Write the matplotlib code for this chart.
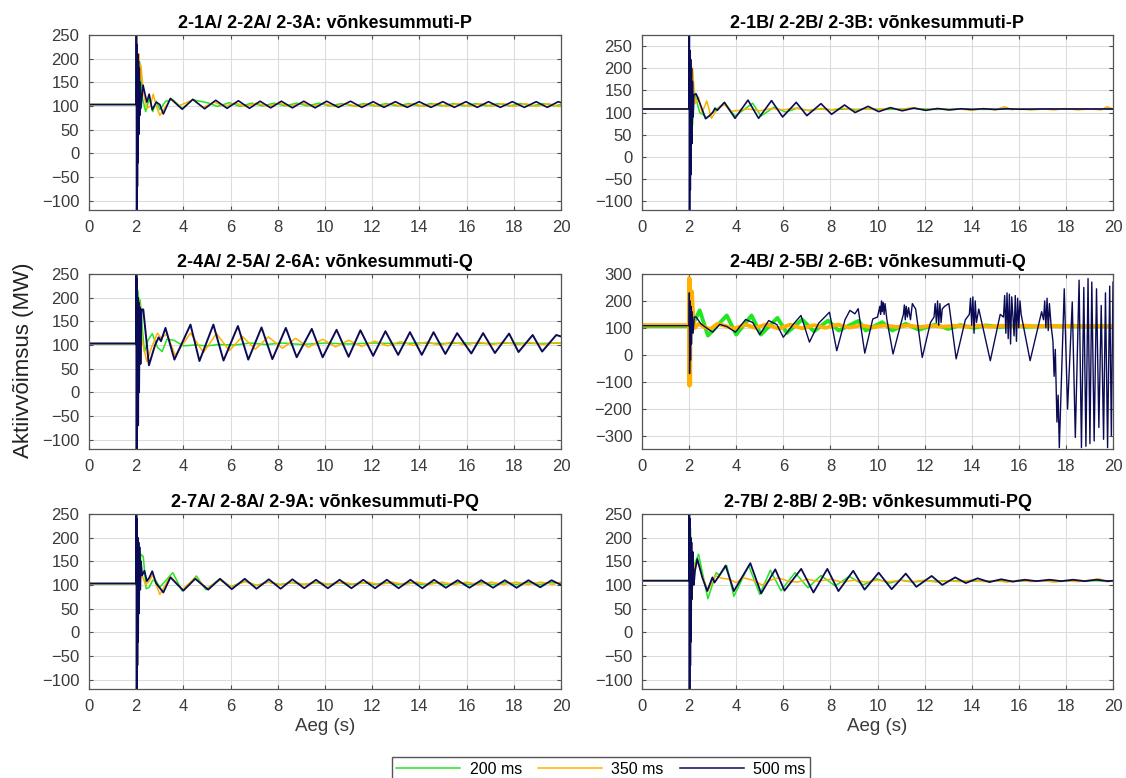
import matplotlib
matplotlib.use("Agg")
import matplotlib.pyplot as plt
from matplotlib.lines import Line2D

plt.rcParams["font.family"] = ["Liberation Sans", "DejaVu Sans"]

# ---------------------------------------------------------------------------
# Simulated active power (MW) after a fault at t = 2 s, three fault durations
# ---------------------------------------------------------------------------
durations = ["200 ms", "350 ms", "500 ms"]
colors = ["#22e622", "#ffb000", "#0b0b55"]

titles = [
    "2-1A/ 2-2A/ 2-3A: võnkesummuti-P",
    "2-1B/ 2-2B/ 2-3B: võnkesummuti-P",
    "2-4A/ 2-5A/ 2-6A: võnkesummuti-Q",
    "2-4B/ 2-5B/ 2-6B: võnkesummuti-Q",
    "2-7A/ 2-8A/ 2-9A: võnkesummuti-PQ",
    "2-7B/ 2-8B/ 2-9B: võnkesummuti-PQ",
]
x_ticks = [0, 2, 4, 6, 8, 10, 12, 14, 16, 18, 20]
y_ticks_250 = [-100, -50, 0, 50, 100, 150, 200, 250]
y_ticks_300 = [-300, -200, -100, 0, 100, 200, 300]

# --- P damper, variant A -----------------------------------------------------
t_pa_200 = [0, 2.0, 2.02, 2.05, 2.1, 2.15, 2.25, 2.4, 2.55, 2.7, 2.85, 3.0, 3.25, 3.55, 3.95,
            4.4, 5.0, 5.45, 5.95, 6.4, 6.9, 7.35, 7.85, 8.3, 8.8, 9.25, 9.75, 10.2, 10.7, 11.2,
            11.65, 12.1, 12.6, 13.05, 13.55, 14.0, 14.5, 14.95, 15.45, 15.9, 16.4, 16.85, 17.35,
            17.8, 18.3, 18.75, 19.25, 19.7, 20.0]
v_pa_200 = [103, 103, 150, 190, 140, 193, 120, 88, 115, 88, 110, 92, 110, 113, 95,
            113, 107, 99, 107, 99, 106, 100, 106, 100, 106, 100, 106, 100, 105, 100,
            105, 100, 105, 100, 105, 100, 105, 100, 105, 100, 105, 100, 105,
            100, 105, 100, 105, 100, 103]
t_pa_350 = [0, 2.0, 2.01, 2.03, 2.05, 2.08, 2.11, 2.15, 2.2, 2.3, 2.45, 2.6, 2.72, 2.85, 3.0,
            3.2, 3.45, 3.8, 4.4, 4.85, 5.3, 5.75, 6.2, 6.65, 7.1, 7.6, 8.05, 8.5, 9.0, 9.45, 9.95,
            10.4, 10.9, 11.35, 11.85, 12.3, 12.8, 13.25, 13.75, 14.2, 14.7, 15.15, 15.65, 16.1,
            16.6, 17.05, 17.55, 18.0, 18.5, 18.95, 19.45, 19.9, 20.0]
v_pa_350 = [103, 103, 260, -85, 200, 60, 210, 150, 186, 130, 95, 100, 125, 100, 80,
            95, 115, 100, 113, 97, 108, 99, 106, 99, 106, 99, 106, 99, 106, 99, 105,
            99, 105, 99, 105, 99, 105, 99, 105, 99, 105, 99, 105, 99,
            105, 99, 105, 99, 105, 99, 105, 99, 100]
t_pa_500 = [0, 2.0, 2.008, 2.02, 2.035, 2.05, 2.065, 2.08, 2.095, 2.11, 2.13, 2.15, 2.17, 2.2,
            2.29, 2.45, 2.55, 2.68, 2.85, 3.0, 3.15, 3.45, 3.95, 4.4, 4.9, 5.37, 5.85, 6.33, 6.8,
            7.25, 7.7, 8.15, 8.62, 9.1, 9.58, 10.07, 10.57, 11.08, 11.56, 12.04, 12.5, 12.98,
            13.48, 13.99, 14.49, 14.99, 15.48, 15.97, 16.45, 16.93, 17.43, 17.94, 18.45, 18.95,
            19.42, 19.88, 20.0]
v_pa_500 = [103, 103, 260, -120, 230, -70, 210, -20, 195, 40, 180, 80, 150, 95,
            144, 108, 125, 92, 108, 103, 83, 116, 93, 114, 94, 112, 95, 111, 95,
            110, 96, 110, 96, 110, 96, 110, 97, 110, 97, 109, 97, 109,
            97, 109, 97, 109, 97, 109, 97, 109, 97, 109, 97, 109,
            97, 109, 107]

# --- P damper, variant B -----------------------------------------------------
t_pb_200 = [0, 2.0, 2.02, 2.06, 2.1, 2.15, 2.22, 2.3, 2.45, 2.6, 2.75, 3.0, 3.5, 3.95, 4.7,
            5.05, 5.6, 6.1, 6.6, 7.1, 7.6, 8.1, 8.6, 9.1, 9.6, 10.5, 11.5, 12.5, 13.5, 14.5,
            15.5, 16.5, 17.5, 18.5, 19.5, 20.0]
v_pb_200 = [108, 108, 140, 190, 100, 72, 148, 130, 100, 95, 88, 100, 122, 92, 121,
            92, 112, 101, 110, 104, 109, 106, 108, 107, 108, 107, 109, 107, 108, 107,
            108, 107, 108, 108, 108, 108]
t_pb_350 = [0, 2.0, 2.01, 2.03, 2.05, 2.1, 2.15, 2.25, 2.4, 2.55, 2.75, 2.95, 3.1, 3.3, 3.5,
            3.75, 4.0, 4.5, 5.0, 5.5, 6.0, 6.5, 7.0, 7.5, 8.0, 8.5, 9.0, 9.5, 10.0, 10.5, 11.0,
            11.5, 12.0, 12.5, 13.0, 13.5, 14.0, 14.5, 15.0, 15.4, 15.7, 16.0, 16.5, 17.0, 17.5,
            18.0, 18.5, 19.0, 19.5, 19.75, 20.0]
v_pb_350 = [108, 108, 230, 60, 220, 180, 200, 120, 135, 100, 126, 87, 100, 112, 118,
            103, 104, 108, 104, 109, 106, 110, 105, 108, 106, 110, 105, 108, 106, 110, 107,
            111, 106, 109, 106, 108, 105, 109, 106, 113, 106, 109, 106, 108, 106,
            109, 106, 108, 106, 113, 108]
t_pb_500 = [0, 2.0, 2.008, 2.02, 2.035, 2.05, 2.065, 2.08, 2.1, 2.12, 2.14, 2.17, 2.2, 2.3,
            2.5, 2.7, 2.85, 3.0, 3.1, 3.2, 3.5, 3.95, 4.5, 4.95, 5.5, 5.97, 6.55, 7.0, 7.6, 8.05,
            8.6, 9.05, 9.6, 10.05, 10.55, 11.05, 11.55, 12.05, 12.55, 13.05, 13.55, 14.0, 14.5,
            15.0, 15.5, 16.0, 17.0, 18.0, 19.0, 20.0]
v_pb_500 = [108, 108, 280, -120, 240, -75, 220, -40, 200, 30, 170, 90, 140, 142,
            115, 86, 92, 100, 110, 105, 123, 87, 128, 87, 127, 90, 123, 93, 120, 96,
            117, 100, 114, 102, 111, 104, 110, 105, 109, 106, 108.5, 107, 108.5,
            107, 108.5, 107.5, 108, 108, 108, 108]

# --- Q damper, variant A -----------------------------------------------------
t_qa_200 = [0, 2.0, 2.03, 2.07, 2.12, 2.17, 2.25, 2.35, 2.5, 2.68, 2.9, 3.1, 3.3, 3.6, 4.0,
            4.5, 5.0, 5.5, 6.2, 6.8, 7.5, 8.2, 9.0, 10.0, 11.0, 12.0, 13.0, 14.0, 15.0, 16.0,
            17.0, 18.0, 19.0, 20.0]
v_qa_200 = [103, 103, 170, 215, 190, 195, 140, 85, 110, 124, 95, 86, 112, 110, 98,
            100, 98, 101, 100, 104, 101, 104, 101, 104, 102, 104, 103, 104, 103, 104,
            103, 104, 103, 104]
t_qa_350 = [0, 2.0, 2.01, 2.03, 2.06, 2.1, 2.15, 2.25, 2.45, 2.65, 2.9, 3.05, 3.3, 3.65, 4.3,
            4.85, 5.4, 5.95, 6.5, 7.05, 7.6, 8.2, 8.75, 9.3, 9.9, 10.45, 11.0, 11.55, 12.1,
            12.65, 13.2, 13.75, 14.3, 14.85, 15.4, 15.95, 16.5, 17.05, 17.6, 18.15, 18.7, 19.25,
            19.8, 20.0]
v_qa_350 = [103, 103, 200, 120, 200, 150, 190, 110, 65, 95, 125, 115, 123, 78, 125,
            84, 124, 88, 118, 91, 117, 93, 114, 95, 112, 96, 110, 97, 108,
            98, 107, 99, 106, 100, 106, 100, 106, 101, 105, 101, 105, 101,
            105, 104]
t_qa_500 = [0, 2.0, 2.008, 2.02, 2.035, 2.05, 2.065, 2.08, 2.1, 2.12, 2.15, 2.18, 2.22, 2.3,
            2.54, 2.8, 2.95, 3.05, 3.24, 3.62, 4.3, 4.68, 5.27, 5.7, 6.31, 6.75, 7.31, 7.77,
            8.34, 8.8, 9.44, 9.9, 10.49, 11.0, 11.5, 12.04, 12.56, 13.1, 13.6, 14.1, 14.6, 15.1,
            15.6, 16.2, 16.7, 17.2, 17.8, 18.2, 18.8, 19.2, 19.8, 20.0]
v_qa_500 = [103, 103, 260, -120, 240, -70, 200, -70, 190, 0, 180, 60, 175, 175,
            57, 100, 116, 108, 136, 69, 143, 66, 143, 67, 140, 69, 137, 70,
            136, 74, 134, 74, 132, 75, 131, 77, 129, 79, 127, 79, 127, 81,
            125, 82, 125, 83, 124, 85, 121, 86, 121, 118]

# --- Q damper, variant B -----------------------------------------------------
t_qb_200 = [0, 2.0, 2.02, 2.05, 2.1, 2.2, 2.45, 2.8, 3.6, 4.0, 4.65, 5.05, 5.75, 6.15, 6.8,
            7.3, 7.9, 8.35, 9.2, 9.5, 10.2, 10.63, 11.2, 11.76, 12.46, 13.0, 13.5, 14.1, 14.6,
            15.2, 15.8, 16.3, 17.0, 18.0, 19.0, 20.0]
v_qb_200 = [106, 106, 60, 150, 90, 120, 165, 71, 146, 75, 146, 75, 137, 81, 131,
            87, 127, 90, 126, 90, 121, 90, 115, 93, 112, 96, 110, 100, 109,
            103, 108, 104, 106, 106, 105, 106]
t_qb_350 = [0, 2.0, 2.005, 2.015, 2.03, 2.045, 2.06, 2.09, 2.12, 2.18, 2.25, 2.4, 2.6, 2.9,
            3.2, 3.5, 3.9, 4.4, 4.8, 5.3, 5.8, 6.3, 6.8, 7.3, 7.8, 8.3, 8.8, 9.3, 9.8, 10.3,
            10.8, 11.3, 11.8, 12.3, 12.8, 13.3, 13.8, 14.3, 14.8, 15.3, 15.8, 16.3, 16.8, 17.3,
            17.8, 18.3, 18.8, 19.3, 19.8, 20.0]
v_qb_350 = [110, 110, 285, -115, 280, -110, 230, 120, 235, 130, 100, 115, 105, 95,
            115, 108, 97, 112, 100, 113, 97, 112, 98, 110, 100, 112, 101, 109, 102, 109,
            103, 109, 103, 108, 104, 108, 104, 108, 104, 108, 105, 108, 105, 108,
            105, 108, 105, 108, 105, 106]
t_qb_500 = [0, 2.0, 2.01, 2.02, 2.04, 2.06, 2.08, 2.1, 2.13, 2.17, 2.22, 2.3, 2.5, 2.7, 3.0,
            3.3, 3.6, 3.97, 4.4, 4.7, 5.0, 5.38, 5.73, 6.0, 6.44, 6.75, 7.11, 7.5, 7.96, 8.27,
            8.62, 8.83, 9.04, 9.18, 9.46, 9.8, 10.0, 10.1, 10.13, 10.17, 10.2, 10.24, 10.28,
            10.32, 10.4, 10.66, 10.99, 11.1, 11.14, 11.18, 11.22, 11.27, 11.32, 11.4, 11.48,
            11.62, 11.9, 12.25, 12.4, 12.45, 12.5, 12.55, 12.6, 12.65, 12.7, 12.75, 12.85,
            13.03, 13.34, 13.73, 13.9, 13.95, 14.0, 14.05, 14.1, 14.15, 14.2, 14.3, 14.79,
            15.21, 15.35, 15.4, 15.45, 15.5, 15.55, 15.6, 15.65, 15.7, 15.8, 15.85, 15.9,
            15.95, 16.0, 16.05, 16.1, 16.48, 16.97, 17.05, 17.1, 17.15, 17.2, 17.25, 17.3,
            17.37, 17.45, 17.5, 17.55, 17.62, 17.67, 17.72, 17.93, 18.07, 18.27, 18.4, 18.56,
            18.66, 18.76, 18.85, 18.94, 19.02, 19.1, 19.2, 19.3, 19.4, 19.5, 19.6, 19.68,
            19.77, 19.86, 19.93, 20.0]
v_qb_500 = [108, 108, 230, -70, 200, -20, 180, 40, 160, 80, 140, 140, 115, 102, 84,
            113, 105, 84, 131, 120, 75, 127, 112, 65, 115, 146, 47, 117, 158, 15,
            130, 165, 152, 171, 6, 133, 140, 180, 150, 200, 160, 195, 150,
            190, 130, 3, 115, 150, 185, 130, 180, 140, 175, 130, 190,
            170, -10, 120, 140, 190, 120, 200, 110, 190, 120, 170, 180,
            190, -15, 130, 150, 210, 110, 215, 80, 200, 120, 170, -22,
            150, 140, 220, 80, 230, 60, 225, 40, 215, 70, 220, 50,
            210, 100, 200, 150, -22, 160, 130, 200, 100, 210, 90, 190,
            110, 50, -80, 20, -250, -150, -345, 245, -202, 196, -307, 277,
            -345, 250, -340, 283, -330, 270, -320, 245, -270, 183, -314, 230,
            -345, 255, -300, 270]

# --- PQ damper, variant A ----------------------------------------------------
t_pqa_200 = [0, 2.0, 2.02, 2.06, 2.12, 2.2, 2.3, 2.42, 2.55, 2.7, 2.85, 3.0, 3.55, 3.95,
             4.55, 4.95, 5.55, 6.0, 6.6, 7.1, 7.6, 8.1, 8.6, 9.1, 9.6, 10.1, 10.6, 11.1, 11.6,
             12.1, 12.6, 13.1, 13.6, 14.1, 14.6, 15.1, 15.6, 16.1, 16.6, 17.1, 17.6, 18.1,
             18.6, 19.1, 19.6, 20.0]
v_pqa_200 = [103, 103, 130, 180, 120, 165, 160, 92, 95, 110, 108, 95, 126, 87,
             119, 90, 113, 96, 108, 99, 106, 101, 105, 101, 105, 101, 105, 101, 105,
             101, 105, 101, 105, 101, 105, 101, 105, 101, 105, 101, 105, 101,
             105, 101, 105, 103]
t_pqa_350 = [0, 2.0, 2.01, 2.03, 2.05, 2.1, 2.15, 2.25, 2.4, 2.55, 2.7, 2.85, 3.0, 3.45,
             3.95, 4.5, 5.0, 5.55, 6.05, 6.6, 7.1, 7.6, 8.1, 8.65, 9.15, 9.7, 10.2, 10.75,
             11.25, 11.8, 12.3, 12.85, 13.35, 13.9, 14.4, 14.95, 15.45, 16.0, 16.5, 17.05,
             17.55, 18.1, 18.6, 19.15, 19.65, 20.0]
v_pqa_350 = [103, 103, 230, 60, 190, 130, 170, 120, 100, 108, 122, 100, 80, 118,
             90, 115, 93, 110, 96, 107, 99, 106, 100, 106, 101, 106, 101, 106,
             101, 106, 101, 106, 101, 106, 101, 106, 101, 106, 101, 106,
             101, 106, 101, 106, 101, 106]
t_pqa_500 = [0, 2.0, 2.008, 2.02, 2.035, 2.05, 2.065, 2.08, 2.1, 2.12, 2.14, 2.17, 2.2, 2.25,
             2.35, 2.45, 2.55, 2.68, 2.84, 3.15, 3.45, 4.0, 4.5, 5.05, 5.55, 6.05, 6.6, 7.1,
             7.62, 8.12, 8.62, 9.12, 9.62, 10.12, 10.62, 11.12, 11.62, 12.12, 12.62, 13.12,
             13.62, 14.12, 14.62, 15.12, 15.62, 16.12, 16.62, 17.12, 17.62, 18.12, 18.62,
             19.12, 19.6, 20.0]
v_pqa_500 = [103, 103, 260, -120, 240, -70, 200, -20, 190, 40, 180, 90, 150, 120,
             130, 108, 115, 129, 104, 84, 116, 88, 113, 90, 113, 91, 113, 92,
             112, 92, 112, 93, 111, 93, 111, 93, 111, 93, 111, 93,
             111, 93, 111, 94, 110, 94, 110, 94, 110, 94, 110,
             95, 110, 100]

# --- PQ damper, variant B ----------------------------------------------------
t_pqb_200 = [0, 2.0, 2.02, 2.06, 2.12, 2.2, 2.4, 2.8, 3.15, 3.3, 3.6, 3.9, 4.53, 5.0, 5.45,
             5.9, 6.5, 7.05, 7.6, 8.2, 8.8, 9.4, 9.95, 10.5, 11.0, 11.5, 12.0, 12.5, 13.0,
             14.0, 15.0, 16.0, 17.0, 18.0, 19.0, 20.0]
v_pqb_200 = [109, 109, 150, 220, 80, 140, 165, 71, 126, 120, 141, 76, 141, 80, 131,
             88, 126, 94, 120, 98, 118, 100, 113, 104, 110, 106, 109, 108, 109,
             108, 109, 108, 109, 108, 109, 108]
t_pqb_350 = [0, 2.0, 2.01, 2.03, 2.06, 2.12, 2.2, 2.35, 2.55, 2.8, 3.1, 3.4, 3.7, 4.0, 4.3,
             4.7, 5.1, 5.45, 5.8, 6.2, 6.6, 7.0, 7.5, 8.0, 8.5, 9.0, 9.5, 10.0, 10.5, 11.0,
             11.5, 12.0, 12.5, 13.0, 13.5, 14.0, 14.5, 15.0, 15.5, 16.0, 16.5, 17.0, 17.5, 18.0,
             18.5, 19.0, 19.4, 19.7, 20.0]
v_pqb_350 = [109, 109, 200, 100, 190, 110, 140, 150, 120, 88, 120, 114, 112, 105, 115,
             110, 100, 110, 115, 108, 106, 112, 108, 112, 106, 110, 106, 110, 107, 110,
             107, 110, 106, 109, 107, 110, 107, 109, 106, 110, 107, 109, 106, 109,
             107, 110, 113, 107, 108]
t_pqb_500 = [0, 2.0, 2.008, 2.02, 2.035, 2.05, 2.065, 2.08, 2.1, 2.12, 2.15, 2.2, 2.25, 2.35,
             2.56, 2.77, 2.99, 3.08, 3.27, 3.55, 3.9, 4.6, 5.06, 5.66, 6.05, 6.76, 7.28, 7.87,
             8.34, 8.97, 9.45, 10.05, 10.6, 11.2, 11.65, 12.3, 12.75, 13.3, 13.75, 14.25, 14.75,
             15.25, 15.75, 16.25, 16.75, 17.3, 17.8, 18.3, 18.8, 19.3, 19.8, 20.0]
v_pqb_500 = [109, 109, 260, -120, 240, -70, 200, -20, 190, 70, 170, 100, 130, 155,
             116, 87, 116, 105, 119, 141, 87, 146, 82, 133, 88, 134, 84, 134,
             87, 130, 90, 126, 91, 124, 96, 119, 100, 116, 104, 114, 106,
             112, 107, 111, 108, 111, 108, 111, 108, 111, 108, 109]

panels = [
    [(t_pa_200, v_pa_200), (t_pa_350, v_pa_350), (t_pa_500, v_pa_500)],
    [(t_pb_200, v_pb_200), (t_pb_350, v_pb_350), (t_pb_500, v_pb_500)],
    [(t_qa_200, v_qa_200), (t_qa_350, v_qa_350), (t_qa_500, v_qa_500)],
    [(t_qb_200, v_qb_200), (t_qb_350, v_qb_350), (t_qb_500, v_qb_500)],
    [(t_pqa_200, v_pqa_200), (t_pqa_350, v_pqa_350), (t_pqa_500, v_pqa_500)],
    [(t_pqb_200, v_pqb_200), (t_pqb_350, v_pqb_350), (t_pqb_500, v_pqb_500)],
]
y_limits = [(-120, 250), (-120, 275), (-120, 250), (-350, 300), (-120, 250), (-120, 250)]
y_tick_sets = [y_ticks_250, y_ticks_250, y_ticks_250, y_ticks_300, y_ticks_250, y_ticks_250]
line_widths = [
    [1.1, 1.1, 1.2], [1.1, 1.1, 1.2], [1.1, 1.1, 1.4],
    [2.8, 2.8, 1.0], [1.1, 1.1, 1.3], [1.1, 1.1, 1.3],
]

# ---------------------------------------------------------------------------
W, H = 1126, 778
fig = plt.figure(figsize=(W / 100, H / 100), dpi=100)

col_x = [89, 642]
col_w = [472, 471]
row_top = [35, 274, 514]
ax_h = 175

tick_color = "#3a3a3a"
for i, series in enumerate(panels):
    r, c = divmod(i, 2)
    left = col_x[c] / W
    bottom = 1 - (row_top[r] + ax_h) / H
    ax = fig.add_axes([left, bottom, col_w[c] / W, ax_h / H])
    for (t, v), col, lw in zip(series, colors, line_widths[i]):
        ax.plot(t, v, color=col, lw=lw, solid_joinstyle="round")
    ax.set_xlim(0, 20)
    ax.set_ylim(*y_limits[i])
    ax.set_xticks(x_ticks)
    ax.set_yticks(y_tick_sets[i])
    ax.grid(True, color="#dcdcdc", lw=0.8)
    ax.set_axisbelow(True)
    ax.tick_params(direction="in", length=3, top=True, right=True,
                   labelsize=12, colors="#4d4d4d", labelcolor=tick_color, pad=7)
    for sp in ax.spines.values():
        sp.set_color("#555555")
        sp.set_linewidth(0.9)
    ax.set_title(titles[i], fontsize=13, fontweight="bold", pad=5)
    if r == 2:
        ax.set_xlabel("Aeg (s)", fontsize=13.5, color=tick_color, labelpad=3)

fig.text(24 / W, 1 - 360 / H, "Aktiivvõimsus (MW)", rotation=90,
         ha="center", va="center", fontsize=16, color="#222222")

handles = [Line2D([], [], color=c, lw=1.1) for c in colors]
fig.legend(handles, durations, loc="upper center", ncol=3,
           bbox_to_anchor=(601 / W, 1 - 757 / H), borderaxespad=0,
           frameon=True, fancybox=False, edgecolor="#555555", fontsize=11.5,
           handlelength=4.0, columnspacing=1.0, handletextpad=0.6,
           borderpad=0.3, framealpha=1)

fig.savefig("out.png", dpi=100)
